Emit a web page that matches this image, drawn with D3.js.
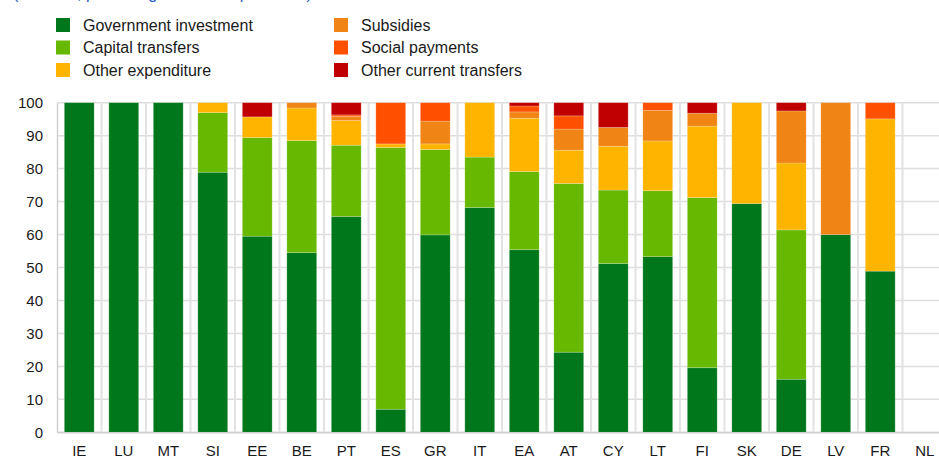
<!DOCTYPE html>
<head>
	<meta charset="UTF-8">
	<script src="https://d3js.org/d3.v7.min.js"></script>
<style>
	body{ margin: 0; background: #fff; }
	svg{ display: block; font-family: 'Liberation Sans', Arial, sans-serif; }
</style>
</head>
<body>
	<svg width="939" height="457"></svg>
</body>
<script>
	// Countries in chart order
	var countries = ["IE","LU","MT","SI","EE","BE","PT","ES","GR","IT","EA","AT","CY","LT","FI","SK","DE","LV","FR","NL"];

	// Series (percentage of total), one value per country
	var seriesNames = ["Government investment","Capital transfers","Other expenditure","Subsidies","Social payments","Other current transfers"];
	var govInvestment   = [100, 100, 100, 78.9, 59.5, 54.5, 65.5, 7.0, 59.9, 68.2, 55.4, 24.3, 51.2, 53.3, 19.6, 69.4, 16.1, 60.0, 48.9, 0];
	var capitalTransfers= [0, 0, 0, 18.1, 29.9, 34.0, 21.6, 79.4, 25.9, 15.3, 23.7, 51.2, 22.3, 20.0, 51.6, 0, 45.3, 0, 0, 0];
	var otherExpenditure= [0, 0, 0, 3.0, 6.3, 9.9, 7.5, 1.1, 1.7, 16.5, 16.2, 10.1, 13.3, 15.1, 21.7, 30.6, 20.3, 0, 46.2, 0];
	var subsidies       = [0, 0, 0, 0, 0, 1.6, 1.2, 0, 6.9, 0, 1.9, 6.4, 5.7, 9.3, 3.9, 0, 15.8, 40.0, 0, 0];
	var socialPayments  = [0, 0, 0, 0, 0, 0, 0.5, 12.5, 5.6, 0, 1.8, 4.0, 0, 2.3, 0, 0, 0, 0, 4.9, 0];
	var otherCurrent    = [0, 0, 0, 0, 4.3, 0, 3.7, 0, 0, 0, 1.0, 4.0, 7.5, 0, 3.2, 0, 2.5, 0, 0, 0];

	var yTicks = [0,10,20,30,40,50,60,70,80,90,100];
	var colors = ["#00771a","#66b800","#ffb400","#f08414","#ff5000","#c00000"];

	var seriesValues = [govInvestment, capitalTransfers, otherExpenditure, subsidies, socialPayments, otherCurrent];

	// Build table for the stack
	var table = countries.map(function(c, i){
		var row = {country: c};
		seriesNames.forEach(function(s, j){ row[s] = seriesValues[j][i]; });
		return row;
	});

	var svg = d3.select("svg");

	// Cut-off subtitle at the very top
	svg.append("text")
		.attr("x", 13)
		.attr("y", -1)
		.attr("fill", "#2c5cc5")
		.attr("font-size", "16px")
		.text("(2020-21, percentage of total expenditure)");

	// Scales
	var x = d3.scaleBand()
		.domain(countries)
		.range([57, 947])
		.paddingInner(0.33)
		.paddingOuter(0.165);

	var y = d3.scaleLinear()
		.domain([0, 100])
		.range([432.3, 102.7]);

	// Gridlines
	var grid = svg.append("g");
	grid.selectAll("line.h")
		.data(yTicks).enter()
		.append("line")
		.attr("x1", 57).attr("x2", 939)
		.attr("y1", function(d){ return y(d); })
		.attr("y2", function(d){ return y(d); })
		.attr("stroke", "#dedede")
		.attr("stroke-width", 1.5);

	var step = x.step();
	grid.selectAll("line.v")
		.data(countries.slice(1)).enter()
		.append("line")
		.attr("x1", function(d){ return x(d) - step * x.paddingInner() / 2; })
		.attr("x2", function(d){ return x(d) - step * x.paddingInner() / 2; })
		.attr("y1", y(100)).attr("y2", y(0))
		.attr("stroke", "#e2e2e2")
		.attr("stroke-width", 2);

	// Stacked bars
	var stacked = d3.stack().keys(seriesNames)(table);

	svg.append("g")
		.selectAll("g")
		.data(stacked).enter()
		.append("g")
		.attr("fill", function(d, i){ return colors[i]; })
		.selectAll("rect")
		.data(function(d){ return d; }).enter()
		.filter(function(d){ return d[1] - d[0] > 0; })
		.append("rect")
		.attr("x", function(d){ return x(d.data.country); })
		.attr("width", x.bandwidth())
		.attr("y", function(d){ return y(d[1]); })
		.attr("height", function(d){ return y(d[0]) - y(d[1]); })
		.attr("stroke", "rgba(255,255,255,0.25)")
		.attr("stroke-width", 0.8);

	// Axes
	var yAxis = svg.append("g")
		.attr("transform", "translate(57,0)")
		.call(d3.axisLeft(y).tickValues(yTicks).tickSize(0).tickPadding(14));
	yAxis.select(".domain").attr("stroke", "#d0d0d0").attr("stroke-width", 1.5);
	yAxis.selectAll("text").attr("font-size", "15px").attr("font-family", "'Liberation Sans', Arial, sans-serif").attr("fill", "#1a1a1a");

	var xAxis = svg.append("g")
		.attr("transform", "translate(0," + y(0) + ")")
		.call(d3.axisBottom(x).tickSize(0).tickPadding(13));
	xAxis.select(".domain").attr("stroke", "#d0d0d0").attr("stroke-width", 1.5);
	xAxis.selectAll("text").attr("font-size", "15px").attr("font-family", "'Liberation Sans', Arial, sans-serif").attr("fill", "#1a1a1a");

	// Legend
	var legend = svg.append("g");
	var legendItems = legend.selectAll("g")
		.data(seriesNames).enter()
		.append("g")
		.attr("transform", function(d, i){
			var col = Math.floor(i / 3), row = i % 3;
			return "translate(" + (col === 0 ? 56 : 334) + "," + (18 + row * 22.5) + ")";
		});
	legendItems.append("rect")
		.attr("width", 14).attr("height", 14)
		.attr("fill", function(d, i){ return colors[i]; });
	legendItems.append("text")
		.attr("x", 27)
		.attr("y", 7)
		.attr("dominant-baseline", "central")
		.attr("font-size", "16px")
		.attr("fill", "#1a1a1a")
		.text(function(d){ return d; });
</script>
